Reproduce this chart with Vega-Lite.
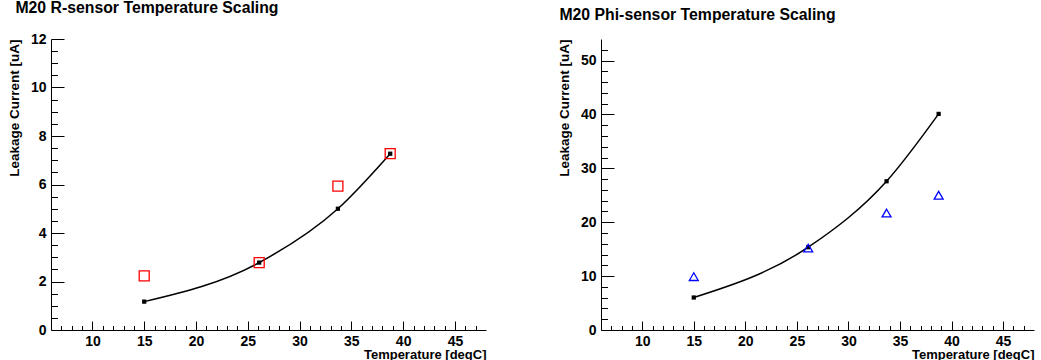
{
  "$schema": "https://vega.github.io/schema/vega-lite/v6.json",
  "background": "white",
  "padding": {"left": 7, "top": 0, "right": 2, "bottom": 0},
  "config": {
    "font": "Liberation Sans",
    "view": {"stroke": null},
    "axis": {
      "grid": false,
      "labelFont": "Liberation Sans",
      "labelFontWeight": "bold",
      "labelFontSize": 14,
      "labelColor": "black",
      "titleFont": "Liberation Sans",
      "titleFontWeight": "bold",
      "titleFontSize": 13.5,
      "titleColor": "black",
      "domainColor": "black",
      "domainWidth": 1,
      "tickColor": "black",
      "tickWidth": 1
    },
    "title": {"font": "Liberation Sans", "fontSize": 15.8, "fontWeight": "bold", "color": "black", "anchor": "start", "frame": "bounds"}
  },
  "datasets": {
    "rfit": [
      {"t": 15.0, "i": 1.17},
      {"t": 26.1, "i": 2.78},
      {"t": 33.7, "i": 5.0},
      {"t": 38.75, "i": 7.27}
    ],
    "rmeas": [
      {"t": 15.0, "i": 2.23},
      {"t": 26.1, "i": 2.78},
      {"t": 33.7, "i": 5.93},
      {"t": 38.75, "i": 7.27}
    ],
    "pfit": [
      {"t": 15.0, "i": 6.03},
      {"t": 26.1, "i": 15.36},
      {"t": 33.7, "i": 27.6},
      {"t": 38.75, "i": 40.1}
    ],
    "pmeas": [
      {"t": 15.0, "i": 9.9},
      {"t": 26.1, "i": 15.2},
      {"t": 33.7, "i": 21.7},
      {"t": 38.75, "i": 25.0}
    ]
  },
  "spacing": 71,
  "hconcat": [
    {
      "width": 435,
      "height": 291,
      "title": {"text": "M20 R-sensor Temperature Scaling", "dx": 8, "offset": 15},
      "encoding": {
        "x": {
          "field": "t", "type": "quantitative",
          "scale": {"domain": [6, 48], "nice": false, "zero": false},
          "axis": {
            "title": "Temperature [degC]",
            "titleAnchor": "end",
            "titleFontSize": 13,
            "titlePadding": 0,
            "values": [7,8,9,10,11,12,13,14,15,16,17,18,19,20,21,22,23,24,25,26,27,28,29,30,31,32,33,34,35,36,37,38,39,40,41,42,43,44,45,46,47],
            "labelExpr": "datum.value % 5 === 0 ? format(datum.value, 'd') : ''",
            "tickSize": {"condition": {"test": "datum.value % 5 === 0", "value": -9}, "value": -4.5},
            "labelPadding": 13,
            "labelFlush": false
          }
        },
        "y": {
          "field": "i", "type": "quantitative",
          "scale": {"domain": [0, 12], "nice": false, "zero": true},
          "axis": {
            "title": "Leakage Current [uA]",
            "titleAnchor": "end",
            "titlePadding": 9,
            "values": [0,0.5,1,1.5,2,2.5,3,3.5,4,4.5,5,5.5,6,6.5,7,7.5,8,8.5,9,9.5,10,10.5,11,11.5,12],
            "labelExpr": "datum.value % 2 === 0 ? format(datum.value, 'd') : ''",
            "tickSize": {"condition": {"test": "datum.value % 2 === 0", "value": -13}, "value": -6.5},
            "labelPadding": 18,
            "labelFlush": false
          }
        }
      },
      "layer": [
        {"data": {"name": "rfit"}, "mark": {"type": "line", "interpolate": "monotone", "color": "black", "strokeWidth": 1.5}},
        {"data": {"name": "rfit"}, "mark": {"type": "square", "filled": true, "color": "black", "size": 18, "opacity": 1}},
        {"data": {"name": "rmeas"}, "mark": {"type": "square", "filled": false, "color": "#ff0000", "size": 100, "strokeWidth": 1.3, "opacity": 1}}
      ]
    },
    {
      "width": 433,
      "height": 291,
      "title": {"text": "M20 Phi-sensor Temperature Scaling", "dx": 2, "offset": 15},
      "encoding": {
        "x": {
          "field": "t", "type": "quantitative",
          "scale": {"domain": [6, 48], "nice": false, "zero": false},
          "axis": {
            "title": "Temperature [degC]",
            "titleAnchor": "end",
            "titleFontSize": 13,
            "titlePadding": 0,
            "values": [7,8,9,10,11,12,13,14,15,16,17,18,19,20,21,22,23,24,25,26,27,28,29,30,31,32,33,34,35,36,37,38,39,40,41,42,43,44,45,46,47],
            "labelExpr": "datum.value % 5 === 0 ? format(datum.value, 'd') : ''",
            "tickSize": {"condition": {"test": "datum.value % 5 === 0", "value": -9}, "value": -4.5},
            "labelPadding": 13,
            "labelFlush": false
          }
        },
        "y": {
          "field": "i", "type": "quantitative",
          "scale": {"domain": [0, 54], "nice": false, "zero": true},
          "axis": {
            "title": "Leakage Current [uA]",
            "titleAnchor": "end",
            "titlePadding": 9,
            "values": [0,2,4,6,8,10,12,14,16,18,20,22,24,26,28,30,32,34,36,38,40,42,44,46,48,50,52],
            "labelExpr": "datum.value % 10 === 0 ? format(datum.value, 'd') : ''",
            "tickSize": {"condition": {"test": "datum.value % 10 === 0", "value": -13}, "value": -6.5},
            "labelPadding": 18,
            "labelFlush": false
          }
        }
      },
      "layer": [
        {"data": {"name": "pfit"}, "mark": {"type": "line", "interpolate": "monotone", "color": "black", "strokeWidth": 1.5}},
        {"data": {"name": "pfit"}, "mark": {"type": "square", "filled": true, "color": "black", "size": 18, "opacity": 1}},
        {"data": {"name": "pmeas"}, "mark": {"type": "point", "shape": "triangle-up", "filled": false, "color": "#0000ff", "size": 80, "strokeWidth": 1.3, "opacity": 1}}
      ]
    }
  ]
}
